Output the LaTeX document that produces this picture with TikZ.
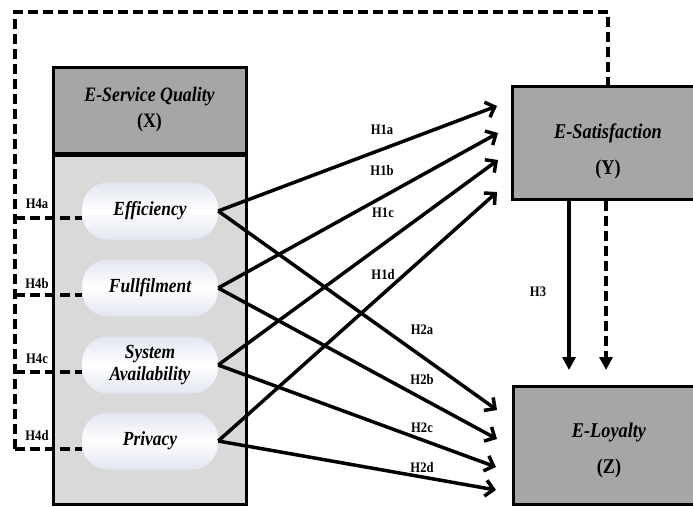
\documentclass[tikz,border=0pt]{standalone}
\usepackage{fontspec}
\setmainfont{Liberation Serif}[FakeStretch=0.87]
\usetikzlibrary{arrows.meta}

\definecolor{darkbox}{HTML}{A6A6A6}
\definecolor{lightbox}{HTML}{D9D9D9}
\definecolor{pilledge}{HTML}{E2E6F1}

\tikzset{
	construct/.style={draw=black, line width=3pt, fill=darkbox, minimum width=192pt},
	boxlabel/.style={align=center, font=\fontsize{21}{36}\selectfont\bfseries\itshape},
	dimension/.style={top color=pilledge, bottom color=pilledge, middle color=white, rounded corners=26pt, minimum width=136pt, minimum height=57pt, align=center, font=\fontsize{20}{22}\selectfont\bfseries\itshape},
	hyp/.style={font=\fontsize{14.5}{16}\selectfont\bfseries},
	effect/.style={line width=3.5pt, -{Straight Barb[length=8pt,width=16pt]}},
	link/.style={line width=3.5pt, dash pattern=on 10pt off 5pt},
	drop/.style={line width=3.5pt, -{Triangle[length=13pt,width=13pt]}},
}

\begin{document}
\begin{tikzpicture}[x=1pt, y=-1pt]
	\useasboundingbox (0,0) rectangle (693,506);

	\filldraw[fill=lightbox, line width=3pt] (53,67) rectangle (246,504);
	\filldraw[fill=darkbox, line width=3pt] (53,67) rectangle (246,154);
	\draw[line width=5pt] (53,154) -- (246,154);
	\node[boxlabel, font=\fontsize{20.5}{26}\selectfont\bfseries\itshape] (esq) at (149.5,110) {E-Service Quality\\\textup{(X)}};

	\node[dimension] (eff) at (150,211) {Efficiency};
	\node[dimension] (ful) at (150,288) {Fullfilment};
	\node[dimension] (sys) at (150,365) {System\\Availability};
	\node[dimension] (pri) at (150,441) {Privacy};

	\node[construct, minimum height=113pt] (sat) at (608,142.5) {};
	\node[boxlabel] (satlabel) at (608,151) {E-Satisfaction\\\textup{(Y)}};
	\node[construct, minimum height=118pt] (loy) at (609,445) {};
	\node[boxlabel] (loylabel) at (609,450) {E-Loyalty\\\textup{(Z)}};

	\coordinate (s1) at (497,106);
	\coordinate (s2) at (498,133);
	\coordinate (s3) at (498,160);
	\coordinate (s4) at (497,192);
	\coordinate (l1) at (497,410);
	\coordinate (l2) at (497,439);
	\coordinate (l3) at (496,467);
	\coordinate (l4) at (496,490);

	\draw[effect] (eff.east) -- (s1);
	\draw[effect] (ful.east) -- (s2);
	\draw[effect] (sys.east) -- (s3);
	\draw[effect] (pri.east) -- (s4);
	\draw[effect] (eff.east) -- (l1);
	\draw[effect] (ful.east) -- (l2);
	\draw[effect] (sys.east) -- (l3);
	\draw[effect] (pri.east) -- (l4);

	\coordinate (h3s) at (569,370);
	\coordinate (h3d) at (606,370);
	\draw[drop] (sat.south -| h3s) -- (h3s);
	\draw[drop, dash pattern=on 10pt off 5pt] (sat.south -| h3d) -- (h3d);

	\coordinate (tl) at (15,12);
	\coordinate (h4a) at (15,218);
	\coordinate (h4b) at (15,295);
	\coordinate (h4c) at (15,372);
	\coordinate (h4d) at (15,449);
	\draw[link] (h4d) -- (tl) -| (sat.north);
	\draw[link] (h4a) -- ([yshift=-7pt]eff.west);
	\draw[link] (h4b) -- ([yshift=-7pt]ful.west);
	\draw[link] (h4c) -- ([yshift=-7pt]sys.west);
	\draw[link] (h4d) -- ([yshift=-8pt]pri.west);

	\node[hyp] (h1a) at (382,130) {H1a};
	\node[hyp] (h1b) at (382,171) {H1b};
	\node[hyp] (h1c) at (383,213) {H1c};
	\node[hyp] (h1d) at (383,275) {H1d};
	\node[hyp] (h2a) at (422,330) {H2a};
	\node[hyp] (h2b) at (422,380) {H2b};
	\node[hyp] (h2c) at (422,428) {H2c};
	\node[hyp] (h2d) at (422,468) {H2d};
	\node[hyp] (h3) at (538,292) {H3};
	\node[hyp] (h4al) at (37,204) {H4a};
	\node[hyp] (h4bl) at (37,284) {H4b};
	\node[hyp] (h4cl) at (37,359) {H4c};
	\node[hyp] (h4dl) at (37,436) {H4d};
\end{tikzpicture}
\end{document}
